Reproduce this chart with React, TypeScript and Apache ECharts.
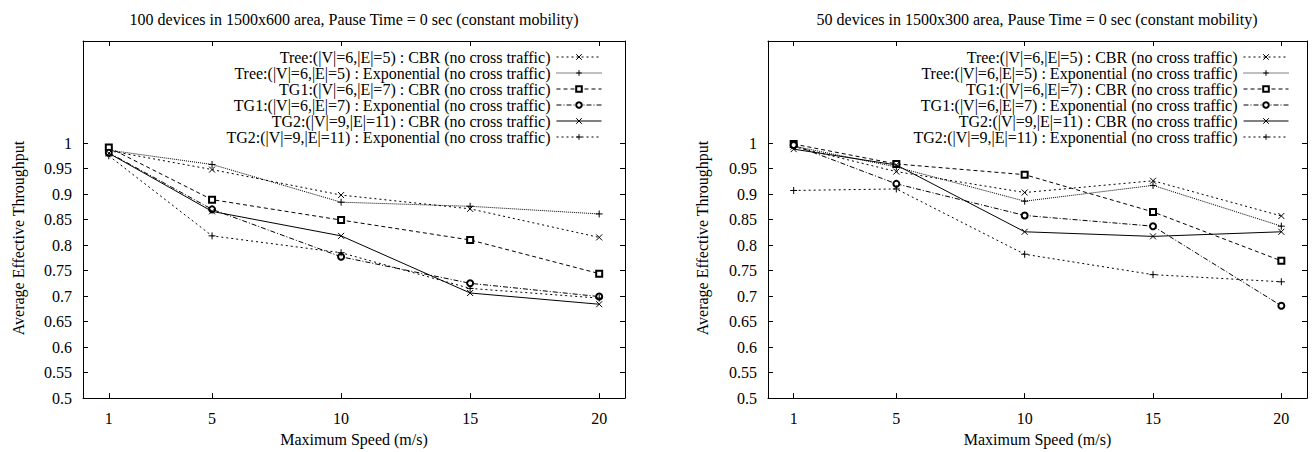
import React, { useEffect, useRef } from 'react';
import * as echarts from 'echarts';

const speeds = [1, 5, 10, 15, 20];
const xTickLabels = ['1', '5', '10', '15', '20'];
const yTicks = [0.5, 0.55, 0.6, 0.65, 0.7, 0.75, 0.8, 0.85, 0.9, 0.95, 1];
const yTickLabels = ['0.5', '0.55', '0.6', '0.65', '0.7', '0.75', '0.8', '0.85', '0.9', '0.95', '1'];

const seriesNames = [
  'Tree:(|V|=6,|E|=5) : CBR (no cross traffic)',
  'Tree:(|V|=6,|E|=5) : Exponential (no cross traffic)',
  'TG1:(|V|=6,|E|=7) : CBR (no cross traffic)',
  'TG1:(|V|=6,|E|=7) : Exponential (no cross traffic)',
  'TG2:(|V|=9,|E|=11) : CBR (no cross traffic)',
  'TG2:(|V|=9,|E|=11) : Exponential (no cross traffic)',
];

const titleLeft = '100 devices in 1500x600 area, Pause Time = 0 sec (constant mobility)';
const titleRight = '50 devices in 1500x300 area, Pause Time = 0 sec (constant mobility)';
const xName = 'Maximum Speed (m/s)';
const yName = 'Average Effective Throughput';

// 100 devices in 1500x600
const leftTreeCbr = [0.985, 0.948, 0.898, 0.871, 0.815];
const leftTreeExp = [0.986, 0.958, 0.884, 0.876, 0.861];
const leftTg1Cbr = [0.991, 0.889, 0.849, 0.810, 0.744];
const leftTg1Exp = [0.981, 0.870, 0.777, 0.725, 0.699];
const leftTg2Cbr = [0.980, 0.866, 0.818, 0.706, 0.684];
const leftTg2Exp = [0.975, 0.818, 0.785, 0.715, 0.696];

// 50 devices in 1500x300
const rightTreeCbr = [0.993, 0.944, 0.903, 0.926, 0.857];
const rightTreeExp = [0.994, 0.953, 0.886, 0.917, 0.837];
const rightTg1Cbr = [0.998, 0.959, 0.938, 0.865, 0.769];
const rightTg1Exp = [0.996, 0.920, 0.858, 0.837, 0.681];
const rightTg2Cbr = [0.988, 0.957, 0.826, 0.817, 0.826];
const rightTg2Exp = [0.907, 0.910, 0.782, 0.742, 0.728];

const leftData = [leftTreeCbr, leftTreeExp, leftTg1Cbr, leftTg1Exp, leftTg2Cbr, leftTg2Exp];
const rightData = [rightTreeCbr, rightTreeExp, rightTg1Cbr, rightTg1Exp, rightTg2Cbr, rightTg2Exp];

const FONT = '"Liberation Serif", "DejaVu Serif", serif';
const FS = 16;
const X_PATH = 'path://M0,0L10,10M10,0L0,10';
const PLUS_PATH = 'path://M5,0L5,10M0,5L10,5';

const styles = [
  { symbol: X_PATH, size: 6, dash: [2, 3] as any },
  { symbol: PLUS_PATH, size: 7, dash: [1, 1] as any },
  { symbol: 'emptyRect', size: 6, dash: [4, 3] as any },
  { symbol: 'emptyCircle', size: 6, dash: [5, 2, 1, 2] as any },
  { symbol: X_PATH, size: 6, dash: 'solid' as any },
  { symbol: PLUS_PATH, size: 7, dash: [2, 3] as any },
];

const grids = [
  { left: 83, top: 41, width: 542, height: 359 },
  { left: 768, top: 41, width: 539, height: 359 },
];

export default function App() {
  const ref = useRef<HTMLDivElement>(null);

  useEffect(() => {
    document.body.style.margin = '0';
    if (!ref.current) return;
    const chart = echarts.init(ref.current, undefined, { renderer: 'svg' });

    const lineStyle = { color: '#000', width: 1 };
    const textBase = { color: '#000', fontFamily: FONT, fontSize: FS };

    const xAxes: any[] = [];
    const yAxes: any[] = [];
    grids.forEach((_, gi) => {
      ['bottom', 'top'].forEach((pos) => {
        xAxes.push({
          type: 'value',
          gridIndex: gi,
          position: pos,
          min: 0,
          max: 21,
          axisLine: { show: true, onZero: false, lineStyle },
          axisTick: { show: true, inside: true, length: 5, customValues: speeds, lineStyle },
          axisLabel: {
            show: pos === 'bottom',
            customValues: speeds,
            formatter: (v: number) => xTickLabels[speeds.indexOf(v)] ?? '',
            margin: 12,
            ...textBase,
          },
          splitLine: { show: false },
          name: pos === 'bottom' ? xName : '',
          nameLocation: 'middle',
          nameGap: 30,
          nameTextStyle: textBase,
        });
      });
      ['left', 'right'].forEach((pos) => {
        yAxes.push({
          type: 'value',
          gridIndex: gi,
          position: pos,
          min: 0.5,
          max: 1.2,
          axisLine: { show: true, onZero: false, lineStyle },
          axisTick: { show: true, inside: true, length: 5, customValues: yTicks, lineStyle },
          axisLabel: {
            show: pos === 'left',
            customValues: yTicks,
            formatter: (v: number) => {
              const i = yTicks.findIndex((t) => Math.abs(t - v) < 1e-6);
              return i >= 0 ? yTickLabels[i] : '';
            },
            margin: 11,
            ...textBase,
          },
          splitLine: { show: false },
        });
      });
    });

    const series: any[] = [];
    [leftData, rightData].forEach((dataSet, gi) => {
      dataSet.forEach((vals, si) => {
        const st = styles[si];
        series.push({
          type: 'line',
          name: seriesNames[si],
          xAxisIndex: gi * 2,
          yAxisIndex: gi * 2,
          data: speeds.map((s, k) => [s, vals[k]]),
          symbol: st.symbol,
          symbolSize: st.size,
          showAllSymbol: true,
          lineStyle: { color: '#000', width: 1, type: st.dash },
          itemStyle: { color: '#000', borderColor: '#000', borderWidth: 1 },
          emphasis: { disabled: true },
          silent: true,
          z: 2 + si,
        });
      });
    });

    const legendRights = [711, 24];
    const legends: any[] = [];
    legendRights.forEach((r) => {
      seriesNames.forEach((n, i) => {
        legends.push({
          data: [n],
          right: r,
          top: 49 + i * 16,
          align: 'right',
          orient: 'horizontal',
          padding: 0,
          itemWidth: 45,
          itemHeight: 7,
          selectedMode: false,
          lineStyle: { width: 1 },
          itemStyle: { borderWidth: 1 },
          textStyle: { ...textBase, padding: [0, 1, 0, 0] },
        });
      });
    });

    const titleStyle = { align: 'center', verticalAlign: 'middle', fill: '#000', fontFamily: FONT, fontSize: FS };
    const graphic: any[] = [
      { type: 'text', x: 354, y: 19, style: { text: titleLeft, ...titleStyle } },
      { type: 'text', x: 1037, y: 19, style: { text: titleRight, ...titleStyle } },
      { type: 'text', x: 18, y: 238, rotation: Math.PI / 2, style: { text: yName, ...titleStyle } },
      { type: 'text', x: 702, y: 238, rotation: Math.PI / 2, style: { text: yName, ...titleStyle } },
    ];

    chart.setOption({
      animation: false,
      backgroundColor: '#fff',
      grid: grids,
      xAxis: xAxes,
      yAxis: yAxes,
      legend: legends,
      series,
      graphic,
    });

    return () => chart.dispose();
  }, []);

  return (
    <div
      ref={ref}
      style={{ width: 1313, height: 452, position: 'absolute', left: 0, top: 0 }}
    />
  );
}
